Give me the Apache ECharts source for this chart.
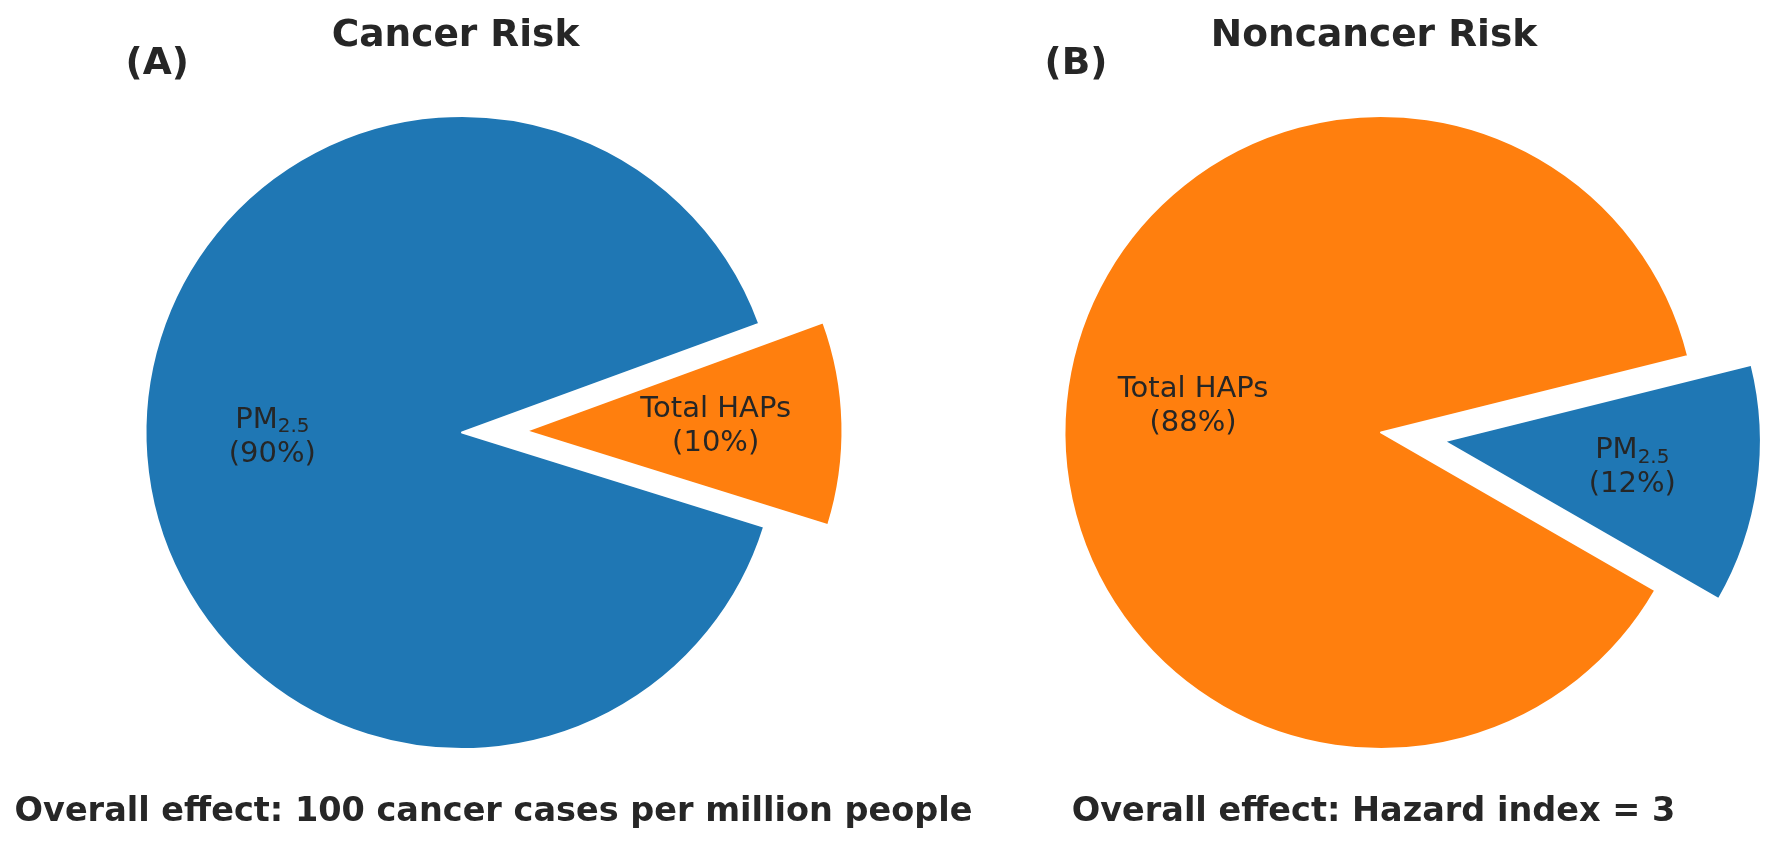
<!DOCTYPE html>
<html>
<head>
<meta charset="utf-8">
<script src="https://cdn.jsdelivr.net/npm/echarts/dist/echarts.min.js"></script>
<style>
  html, body { margin: 0; padding: 0; background: #ffffff; }
  #chart { width: 1778px; height: 846px; }
</style>
</head>
<body>
<div id="chart"></div>
<script>
// ---- data ----
const cancerCategories = ['Total HAPs', 'PM2.5'];
const cancerValues = [10.4, 89.6];
const noncancerCategories = ['PM2.5', 'Total HAPs'];
const noncancerValues = [12.2, 87.8];
const panelTitles = ['Cancer Risk', 'Noncancer Risk'];
const panelTags = ['(A)', '(B)'];
const footnotes = ['Overall effect: 100 cancer cases per million people', 'Overall effect: Hazard index = 3'];

const COLORS = { 'PM2.5': '#1f77b4', 'Total HAPs': '#ff7f0e' };
const TEXT = '#262626';
const FONT = "'DejaVu Sans', sans-serif";

const R = 316.5;
const OFFSET = 64;
const LABEL_OFFSET = 64;
const LABEL_RADIUS_FACTOR = 1.18;
const centers = [[462, 432.5], [1381, 432.5]];
const startAngles = [20.1, 14.0];

function makeData(cats, vals, transparent) {
  return cats.map((c, i) => {
    const style = transparent
      ? { color: 'rgba(0,0,0,0)', borderWidth: 0 }
      : { color: COLORS[c], borderColor: '#ffffff', borderWidth: 2 };
    return {
      name: c,
      value: vals[i],
      selected: i === 0,
      itemStyle: style,
      select: { itemStyle: style }
    };
  });
}

function labelFormatter(p) {
  const pct = '(' + Math.round(p.percent) + '%)';
  if (p.name === 'PM2.5') return '{m|PM}{s|2.5}\n{m|' + pct + '}';
  return '{m|' + p.name + '}\n{m|' + pct + '}';
}

const pieSets = [[cancerCategories, cancerValues], [noncancerCategories, noncancerValues]];
const series = [];
pieSets.forEach((set, k) => {
  series.push({
    type: 'pie',
    center: centers[k],
    radius: R,
    startAngle: startAngles[k],
    clockwise: true,
    selectedMode: 'multiple',
    selectedOffset: OFFSET,
    avoidLabelOverlap: false,
    silent: true,
    emphasis: { disabled: true, scale: false },
    label: { show: false },
    labelLine: { show: false },
    data: makeData(set[0], set[1], false),
    z: 2
  });
  series.push({
    type: 'pie',
    center: centers[k],
    radius: R * LABEL_RADIUS_FACTOR,
    startAngle: startAngles[k],
    clockwise: true,
    selectedMode: 'multiple',
    selectedOffset: LABEL_OFFSET,
    avoidLabelOverlap: false,
    silent: true,
    emphasis: { disabled: true, scale: false },
    label: {
      show: true,
      position: 'inside',
      formatter: labelFormatter,
      color: TEXT,
      align: 'center',
      rich: {
        m: { fontSize: 29, fontFamily: FONT, color: TEXT, lineHeight: 34 },
        s: { fontSize: 20, fontFamily: FONT, color: TEXT, lineHeight: 18, verticalAlign: 'bottom' }
      }
    },
    labelLine: { show: false },
    data: makeData(set[0], set[1], true),
    z: 3
  });
});

const graphic = [
  { type: 'text', x: 455.5, y: 36, style: { text: panelTitles[0], fill: TEXT, font: "bold 37.5px " + FONT, align: 'center', verticalAlign: 'middle', textAlign: 'center', textVerticalAlign: 'middle' } },
  { type: 'text', x: 1374, y: 36, style: { text: panelTitles[1], fill: TEXT, font: "bold 37.5px " + FONT, align: 'center', verticalAlign: 'middle', textAlign: 'center', textVerticalAlign: 'middle' } },
  { type: 'text', x: 125.5, y: 64, style: { text: panelTags[0], fill: TEXT, font: "bold 37.5px " + FONT, align: 'left', verticalAlign: 'middle', textAlign: 'left', textVerticalAlign: 'middle' } },
  { type: 'text', x: 1044.5, y: 64, style: { text: panelTags[1], fill: TEXT, font: "bold 37.5px " + FONT, align: 'left', verticalAlign: 'middle', textAlign: 'left', textVerticalAlign: 'middle' } },
  { type: 'text', x: 493.5, y: 812.5, style: { text: footnotes[0], fill: TEXT, font: "bold 33.5px " + FONT, align: 'center', verticalAlign: 'middle', textAlign: 'center', textVerticalAlign: 'middle' } },
  { type: 'text', x: 1373.5, y: 812.5, style: { text: footnotes[1], fill: TEXT, font: "bold 33.5px " + FONT, align: 'center', verticalAlign: 'middle', textAlign: 'center', textVerticalAlign: 'middle' } }
];

const chart = echarts.init(document.getElementById('chart'), null, { renderer: 'canvas' });
chart.setOption({
  animation: false,
  backgroundColor: '#ffffff',
  tooltip: { show: false },
  series: series,
  graphic: graphic
});
</script>
</body>
</html>
